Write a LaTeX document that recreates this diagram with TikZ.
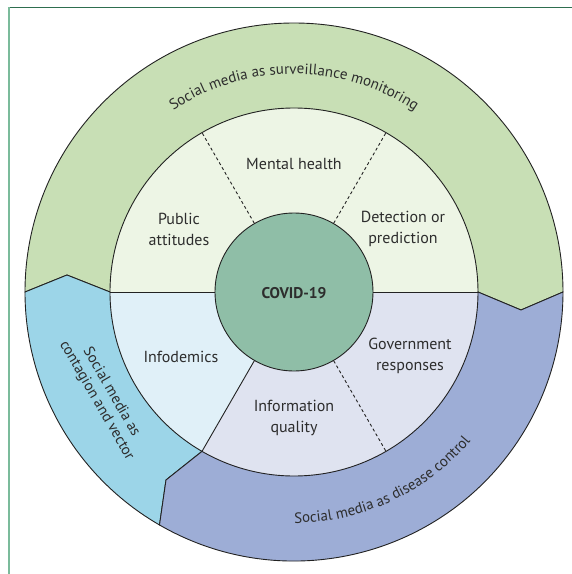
\documentclass[tikz,border=0pt]{standalone}
\usepackage{fontspec}
\setmainfont{PT Sans}
\usetikzlibrary{decorations.text}
\definecolor{outgreen}{HTML}{C8DFB5}
\definecolor{ingreen}{HTML}{EDF5E5}
\definecolor{outblue}{HTML}{9CD5E8}
\definecolor{inblue}{HTML}{E0F0F8}
\definecolor{outpurple}{HTML}{9DADD6}
\definecolor{inpurple}{HTML}{DFE3F0}
\definecolor{core}{HTML}{8FBEA7}
\definecolor{txt}{HTML}{2D2D2D}
\definecolor{edgegrey}{HTML}{222222}
\definecolor{framedark}{HTML}{2E6E4F}
\definecolor{framelight}{HTML}{7BBB9B}
\newcommand{\labelfont}{\fontsize{16}{21}\selectfont}
\newcommand{\ringfont}{\fontsize{15}{17}\selectfont}
\begin{document}
\begin{tikzpicture}[x=1pt,y=1pt,
  edge/.style={draw=edgegrey, line width=0.9pt},
  dashsep/.style={draw=edgegrey, line width=0.9pt, dash pattern=on 3pt off 2.6pt},
  lbl/.style={text=txt, font=\labelfont, align=center, inner sep=0pt},
]
\useasboundingbox (-294,-282) rectangle (278,292);
\fill[white] (-294,-282) rectangle (278,292);

% frame rules
\draw[framedark, line width=1pt] (-285.5,285) -- (278,285);
\draw[framelight, line width=1.6pt] (-285,285) -- (-285,-282);

% inner ring sectors
\fill[ingreen] (0,0) -- (0:184pt) arc[start angle=0, end angle=180, radius=184pt] -- cycle;
\fill[inblue] (0,0) -- (180:184pt) arc[start angle=180, end angle=240, radius=184pt] -- cycle;
\fill[inpurple] (0,0) -- (240:184pt) arc[start angle=240, end angle=360, radius=184pt] -- cycle;

% outer ring: three themes
\path[fill=outgreen, edge] (180:269pt) -- (-227,17) -- (180:184pt)
  arc[start angle=180, end angle=0, radius=184pt] -- (227,-18) -- (0:269pt)
  arc[start angle=0, end angle=180, radius=269pt] -- cycle;
\path[fill=outblue, edge] (180:269pt) -- (-227,17) -- (180:184pt)
  arc[start angle=180, end angle=240, radius=184pt] -- (-128,-188) -- (240:269pt)
  arc[start angle=240, end angle=180, radius=269pt] -- cycle;
\path[fill=outpurple, edge] (240:184pt) -- (-128,-188) -- (240:269pt)
  arc[start angle=240, end angle=360, radius=269pt] -- (227,-18) -- (0:184pt)
  arc[start angle=0, end angle=-120, radius=184pt] -- cycle;

% centre
\node[circle, fill=core, edge, minimum size=158pt, inner sep=0pt] (covid) at (0,0) {};
\node[text=txt, font=\fontsize{15.5}{18}\selectfont\bfseries] (covidtext) at (0,-1) {COVID-19};

% sector dividers
\draw[edge] (covid.0) -- (0:184pt);
\draw[edge] (covid.180) -- (180:184pt);
\draw[edge] (covid.240) -- (240:184pt);
\draw[dashsep] (covid.60) -- (60:184pt);
\draw[dashsep] (covid.120) -- (120:184pt);
\draw[dashsep] (covid.300) -- (300:184pt);

% sector labels
\node[lbl] (mental) at (0,128) {Mental health};
\node[lbl] (public) at (-115,63) {Public\\attitudes};
\node[lbl] (detect) at (109,63) {Detection or\\prediction};
\node[lbl] (infodem) at (-113,-65) {Infodemics};
\node[lbl] (govt) at (116,-64) {Government\\responses};
\node[lbl] (infoq) at (0,-126) {Information\\quality};

% outer ring labels
\path[decorate, decoration={text along path, text align=center,
  text={|\ringfont\color{txt}|Social media as surveillance monitoring}}]
  (130:218pt) arc[start angle=130, end angle=50, radius=218pt];
\path[decorate, decoration={text along path, text align=center,
  text={|\ringfont\color{txt}|Social media as disease control}}]
  (255:231pt) arc[start angle=255, end angle=335, radius=231pt];
\node[lbl, rotate=-60, font=\fontsize{15}{17}\selectfont] (contagion) at (-190,-104.5) {Social media as\\contagion and vector};
\end{tikzpicture}
\end{document}
